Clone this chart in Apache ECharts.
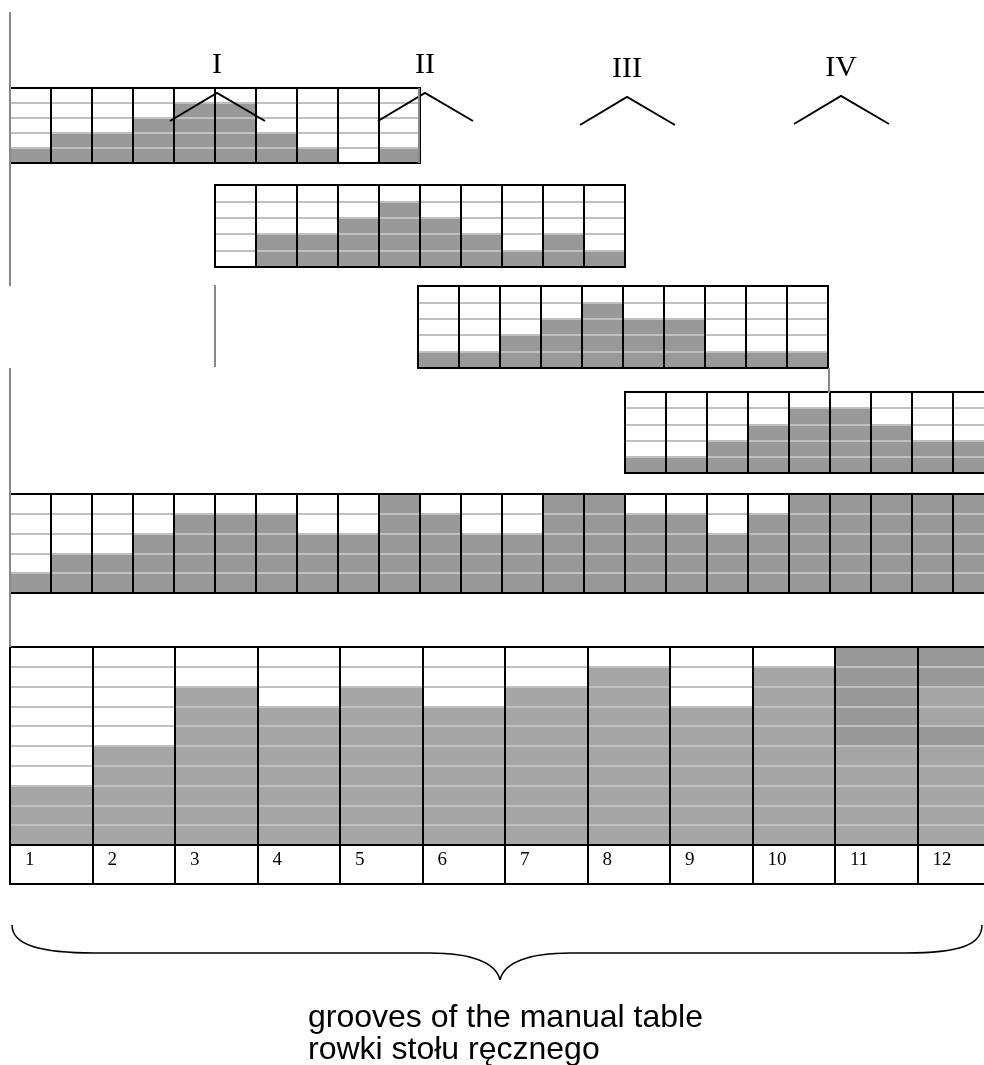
<!DOCTYPE html>
<html><head><meta charset="utf-8">
<script src="https://cdn.jsdelivr.net/npm/echarts@6/dist/echarts.min.js"></script>
<style>html,body{margin:0;padding:0;background:#fff;overflow:hidden}#c{width:1040px;height:1065px}</style>
</head><body><div id="c"></div>
<script>
// ---- data ----
const panelI   = [1,2,2,3,4,4,2,1,0,1];
const panelII  = [0,2,2,3,4,3,2,1,2,1];
const panelIII = [1,1,2,3,4,3,3,1,1,1];
const panelIV  = [1,1,2,3,4,4,3,2,2];
const combined = [1,2,2,3,4,4,4,3,3,5,4,3,3,5,5,4,4,3,4,5,5,5,5,5];
const panelNames = ['I','II','III','IV'];
const grooveLabels = ['1','2','3','4','5','6','7','8','9','10','11','12'];
// groove fill, stacked segments from bottom (light, dark, light, dark)
const grooveLight1 = [3,5,8,7,8,7,8,9,7,9,5,5];
const grooveDark1  = [0,0,0,0,0,0,0,0,0,0,5,1];
const grooveLight2 = [0,0,0,0,0,0,0,0,0,0,0,2];
const grooveDark2  = [0,0,0,0,0,0,0,0,0,0,0,2];
const caption1 = 'grooves of the manual table';
const caption2 = 'rowki stołu ręcznego';

const DARK = '#999999', LIGHT = '#a6a6a6', HLINE = '#c0c0c0', VGRAY = '#888888';
const cats = n => Array.from({length:n}, (_, i) => String(i + 1));

const gridDefs = [
  {left:10,  top:88,  width:410, height:75,  n:panelI.length,     max:5},
  {left:215, top:185, width:410, height:82,  n:panelII.length,    max:5},
  {left:418, top:286, width:410, height:82,  n:panelIII.length,   max:5},
  {left:625, top:392, width:410, height:81,  n:10,                max:5},
  {left:10,  top:494, width:984, height:99,  n:combined.length,   max:5},
  {left:10,  top:647, width:990, height:198, n:grooveLabels.length, max:10}
];
const grids = [], xAxes = [], yAxes = [];
gridDefs.forEach((g, i) => {
  grids.push({left:g.left, top:g.top, width:g.width, height:g.height, show:true,
    outerBoundsMode:'none', containLabel:false,
    borderColor:'#000', borderWidth:2, backgroundColor:'rgba(0,0,0,0)', z:6});
  xAxes.push({gridIndex:i, type:'category', data:cats(g.n), boundaryGap:true,
    axisLine:{show:false}, axisTick:{show:false}, axisLabel:{show:false},
    splitLine:{show:true, interval:0, lineStyle:{color:'#000', width:2}}, z:5});
  yAxes.push({gridIndex:i, type:'value', min:0, max:g.max, interval:1,
    axisLine:{show:false}, axisTick:{show:false}, axisLabel:{show:false},
    splitLine:{show:true, lineStyle:{color:HLINE, width:2}}, z:4});
});
// label row of the grooves table
grids.push({left:10, top:845, width:990, height:39, show:true, borderColor:'#000',
  outerBoundsMode:'none', containLabel:false,
  borderWidth:2, backgroundColor:'rgba(0,0,0,0)', z:6});
xAxes.push({gridIndex:6, type:'value', min:0, max:12, interval:1, position:'top',
  axisLine:{show:false}, axisTick:{show:false},
  splitLine:{show:true, lineStyle:{color:'#000', width:2}},
  axisLabel:{show:true, inside:true, margin:15, align:'left', verticalAlign:'middle',
    padding:[0,0,0,15], color:'#000', fontFamily:'Liberation Serif', fontSize:19,
    showMaxLabel:false, formatter: v => grooveLabels[v] || ''}, z:5});
yAxes.push({gridIndex:6, type:'value', min:0, max:1, show:false, splitLine:{show:false}});

const bar = (i, data, color, stack) => ({type:'bar', xAxisIndex:i, yAxisIndex:i, data,
  barWidth:'100%', barCategoryGap:'0%', stack, itemStyle:{color}, z:1, silent:true,
  animation:false});
const series = [
  bar(0, panelI, DARK), bar(1, panelII, DARK), bar(2, panelIII, DARK),
  bar(3, panelIV, DARK), bar(4, combined, DARK),
  bar(5, grooveLight1, LIGHT, 'g'), bar(5, grooveDark1, DARK, 'g'),
  bar(5, grooveLight2, LIGHT, 'g'), bar(5, grooveDark2, DARK, 'g')
];

// decorations
const labelPos = [[217,93],[425,93],[627,97],[841,96]];
const graphic = [];
panelNames.forEach((t, i) => {
  const [cx, ay] = labelPos[i];
  graphic.push({type:'text', x:cx, y:ay-28, z:20,
    style:{text:t, font:'30px "Liberation Serif"', fill:'#000', align:'center', verticalAlign:'middle'}});
  graphic.push({type:'polyline', z:20,
    shape:{points:[[cx-47, ay+28],[cx, ay],[cx+48, ay+28]]},
    style:{stroke:'#000', lineWidth:2, fill:null}});
});
const vseg = (x, y1, y2) => ({type:'line', z:20, shape:{x1:x, y1, x2:x, y2},
  style:{stroke:VGRAY, lineWidth:2}});
graphic.push(vseg(10, 12, 286), vseg(10, 368, 647), vseg(215, 285, 367),
  vseg(829, 368, 393), vseg(419, 88, 163));
const curve = (x1,y1,c1x,c1y,c2x,c2y,x2,y2) => ({type:'bezierCurve', z:20,
  shape:{x1,y1,x2,y2,cpx1:c1x,cpy1:c1y,cpx2:c2x,cpy2:c2y},
  style:{stroke:'#000', lineWidth:1.5, fill:null}});
const hline = (x1, x2, y) => ({type:'line', z:20, shape:{x1, y1:y, x2, y2:y},
  style:{stroke:'#000', lineWidth:1.5}});
graphic.push(
  curve(12,925, 12,945, 40,953, 95,953), hline(95,430,953),
  curve(430,953, 470,953, 496,962, 500,980),
  curve(500,980, 504,962, 530,953, 570,953), hline(570,905,953),
  curve(905,953, 960,953, 982,945, 982,925));
graphic.push({type:'text', x:308, y:1018, z:20,
  style:{text:caption1, font:'32px "Liberation Sans"', fill:'#000', align:'left', verticalAlign:'middle'}});
graphic.push({type:'text', x:308, y:1050, z:20,
  style:{text:caption2, font:'32px "Liberation Sans"', fill:'#000', align:'left', verticalAlign:'middle'}});

const chart = echarts.init(document.getElementById('c'), null, {renderer:'canvas'});
chart.setOption({animation:false, backgroundColor:'#fff', grid:grids, xAxis:xAxes,
  yAxis:yAxes, series, graphic});
</script></body></html>
